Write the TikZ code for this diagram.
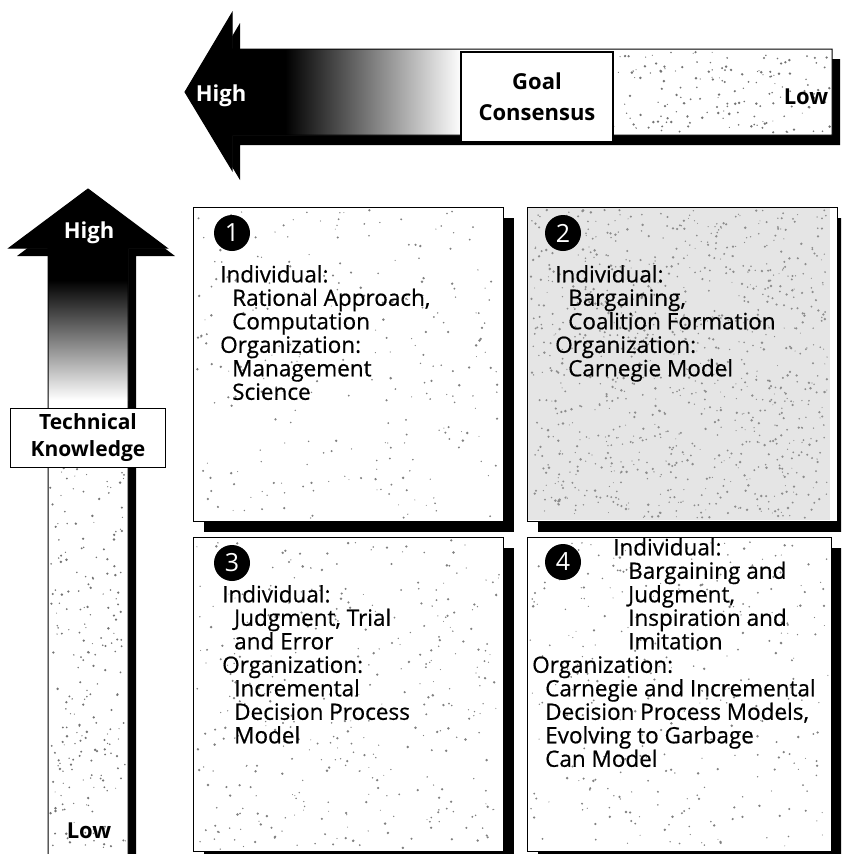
\documentclass[tikz,border=0pt]{standalone}
\usepackage{fontspec}
\setmainfont{Open Sans}
\newfontfamily\quadfont[FakeBold=0.6]{Open Sans}
\usetikzlibrary{shadows}

% scattered print grain inside a rectangle: x0 y0 x1 y1 count colour
\newcommand\grainbox[6]{%
  \foreach \k in {1,...,#5}{%
    \pgfmathsetmacro\gx{#1+rnd*(#3-#1)}%
    \pgfmathsetmacro\gy{#2+rnd*(#4-#2)}%
    \pgfmathsetmacro\gr{0.5+rnd*0.9}%
    \fill[#6] (\gx,\gy) circle (\gr pt);
  }}

\begin{document}
\begin{tikzpicture}[x=1pt,y=-1pt,
  quadface/.style={draw=black, line width=1.3pt, fill=white, anchor=north west,
    minimum width=310pt, minimum height=314pt, inner sep=0pt,
    drop shadow={shadow xshift=10pt, shadow yshift=-10pt, fill=black, opacity=1}},
  numdot/.style={circle, fill=black, minimum size=36pt, inner sep=0pt, text=white,
    font=\fontsize{25pt}{25pt}\selectfont},
  quadtext/.style={anchor=north west, inner sep=0pt, align=left,
    font=\quadfont\fontsize{22.5pt}{23.5pt}\selectfont},
  labelbox/.style={draw=black, line width=1.3pt, fill=white, align=center, inner sep=0pt,
    font=\bfseries\fontsize{22pt}{31pt}\selectfont},
  axislabel/.style={inner sep=0pt, font=\bfseries\fontsize{22pt}{22pt}\selectfont}]

\clip (0,0) rectangle (841,854);
\fill[white] (0,0) rectangle (841,854);
\pgfmathsetseed{4711}

% ---- horizontal axis arrow (goal consensus) ----
\fill[black, shift={(8,10)}] (185,92) -- (232,13) -- (232,49) -- (832,49) -- (832,135)
  -- (232,135) -- (232,170) -- cycle;
\fill[white] (185,92) -- (232,13) -- (232,49) -- (832,49) -- (832,135)
  -- (232,135) -- (232,170) -- cycle;
\begin{scope}
  \clip (185,92) -- (232,13) -- (232,49) -- (832,49) -- (832,135)
    -- (232,135) -- (232,170) -- cycle;
  \fill[black] (180,0) rectangle (286,180);
  \shade[left color=black, right color=white] (285,0) rectangle (462,180);
  \grainbox{613}{52}{830}{133}{160}{black!55}
\end{scope}
\draw[line width=1pt] (185,92) -- (232,13) -- (232,49) -- (832,49) -- (832,135)
  -- (232,135) -- (232,170) -- cycle;

% ---- vertical axis arrow (technical knowledge) ----
\fill[black, shift={(8,8)}] (88,189) -- (167,248) -- (128,248) -- (128,870)
  -- (48,870) -- (48,248) -- (9,248) -- cycle;
\fill[white] (88,189) -- (167,248) -- (128,248) -- (128,870)
  -- (48,870) -- (48,248) -- (9,248) -- cycle;
\begin{scope}
  \clip (88,189) -- (167,248) -- (128,248) -- (128,870)
    -- (48,870) -- (48,248) -- (9,248) -- cycle;
  \fill[black] (0,180) rectangle (180,281);
  \shade[top color=black, bottom color=white] (0,280) rectangle (180,400);
  \grainbox{50}{468}{126}{850}{220}{black!55}
\end{scope}
\draw[line width=1pt] (88,189) -- (167,248) -- (128,248) -- (128,870)
  -- (48,870) -- (48,248) -- (9,248) -- cycle;

% ---- axis captions ----
\node[labelbox, minimum width=152pt, minimum height=90pt] (goal) at (537,97) {Goal\\Consensus};
\node[labelbox, minimum width=155pt, minimum height=59pt,
  font=\bfseries\fontsize{21pt}{27pt}\selectfont] (tech) at (88,438) {Technical\\Knowledge};
\node[axislabel, text=white] (hiH) at (221,96) {High};
\node[axislabel] (loH) at (806,97) {Low};
\node[axislabel, text=white] (hiV) at (89,233) {High};
\node[axislabel] (loV) at (89,831) {Low};

% ---- the four quadrants ----
\node[quadface] (q1) at (193,207) {};
\node[quadface] (q2) at (527,207) {};
\node[quadface] (q3) at (193,537) {};
\node[quadface, minimum width=304pt] (q4) at (527,537) {};

\fill[black!10] (528,208) rectangle (830,520);
\grainbox{196}{210}{500}{518}{260}{black!50}
\grainbox{530}{210}{828}{518}{1000}{black!45}
\grainbox{196}{540}{500}{850}{380}{black!50}
\grainbox{530}{540}{828}{850}{320}{black!50}

\node[numdot] (n1) at (232,233) {1};
\node[numdot] (n2) at (563,233) {2};
\node[numdot] (n3) at (232,563) {3};
\node[numdot] (n4) at (563,562) {4};

\node[quadtext] (t1) at (220,265) {Individual:\\
  \hspace*{12pt}Rational Approach,\\
  \hspace*{12pt}Computation\\
  Organization:\\
  \hspace*{12pt}Management\\
  \hspace*{12pt}Science};

\node[quadtext] (t2) at (555,265) {Individual:\\
  \hspace*{13pt}Bargaining,\\
  \hspace*{13pt}Coalition Formation\\
  Organization:\\
  \hspace*{13pt}Carnegie Model};

\node[quadtext] (t3) at (222,585) {Individual:\\
  \hspace*{12pt}Judgment, Trial\\
  \hspace*{12pt}and Error\\
  Organization:\\
  \hspace*{12pt}Incremental\\
  \hspace*{12pt}Decision Process\\
  \hspace*{12pt}Model};

\node[quadtext] (t4) at (532,538) {\hspace*{81pt}Individual:\\
  \hspace*{96pt}Bargaining and\\
  \hspace*{96pt}Judgment,\\
  \hspace*{96pt}Inspiration and\\
  \hspace*{96pt}Imitation\\
  Organization:\\
  \hspace*{13pt}Carnegie and Incremental\\
  \hspace*{13pt}Decision Process Models,\\
  \hspace*{13pt}Evolving to Garbage\\
  \hspace*{13pt}Can Model};
\end{tikzpicture}
\end{document}
